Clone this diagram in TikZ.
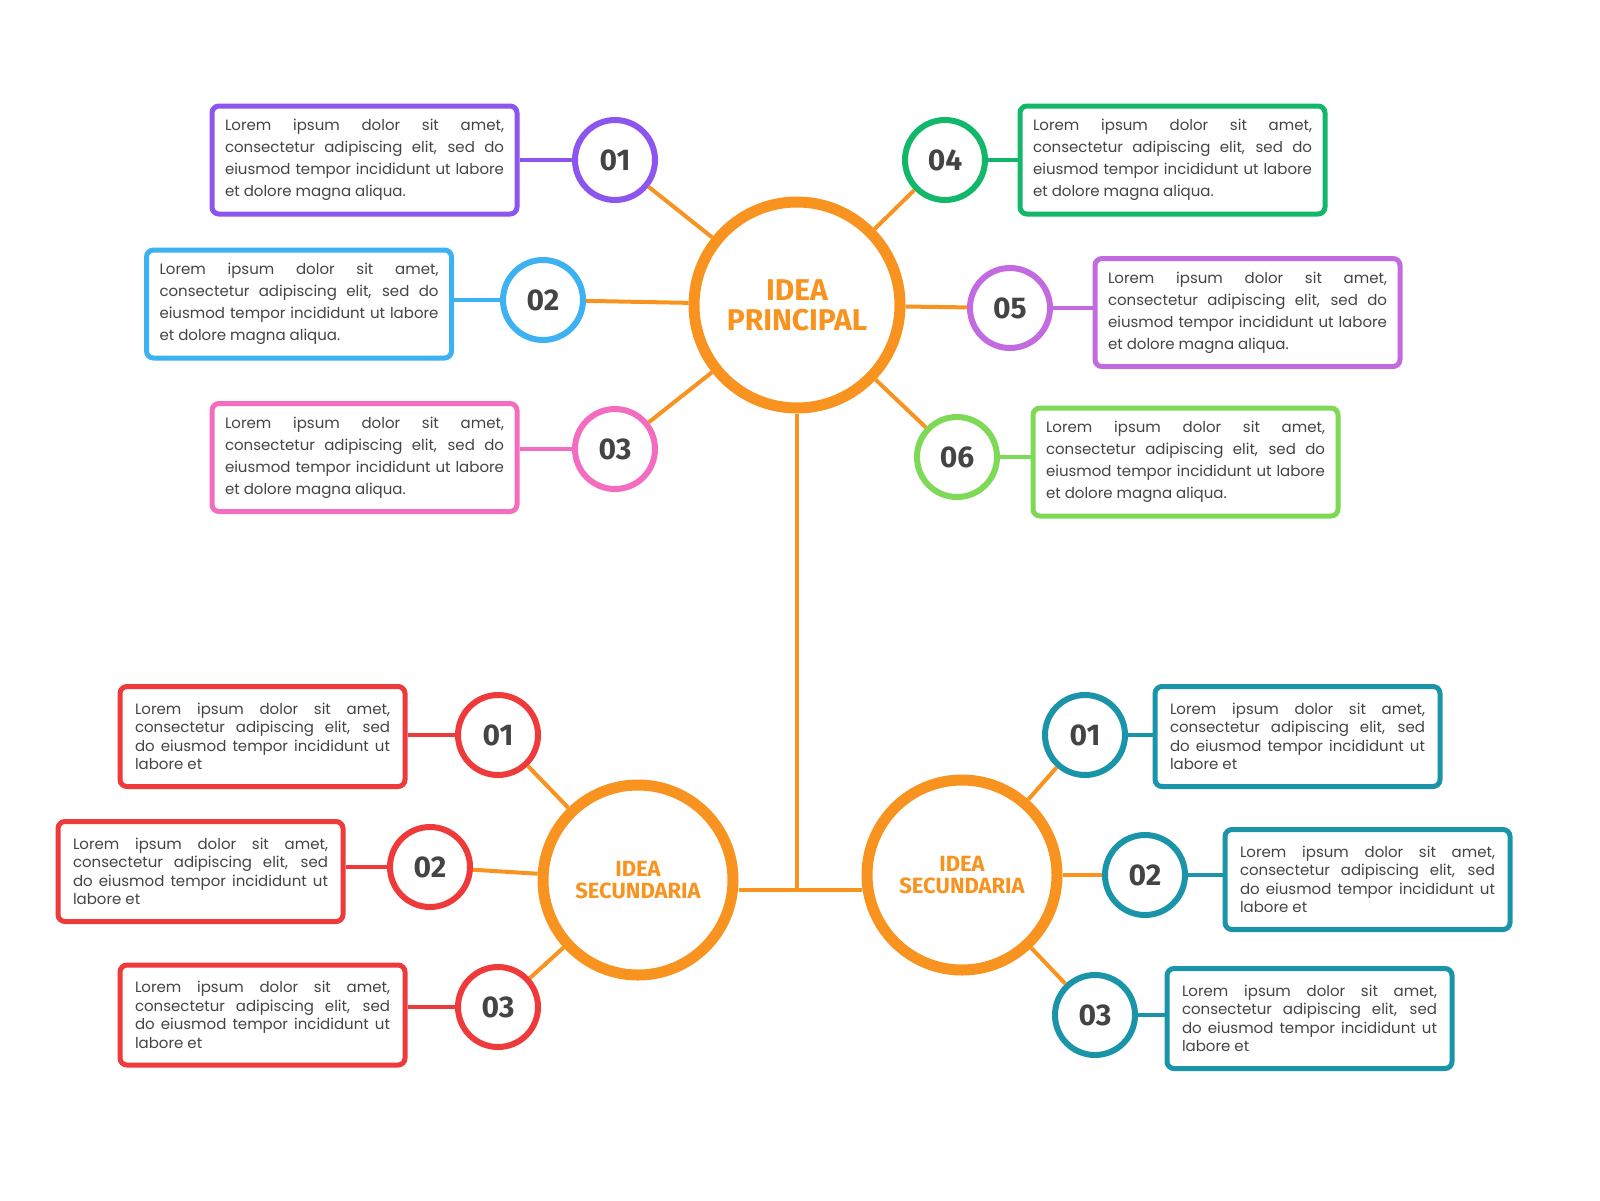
\documentclass[tikz,border=0pt]{standalone}
\usepackage{fontspec}
\setmainfont{Poppins}
\newfontfamily\numfont{Fira Sans}
\newcommand\nohy{\hyphenpenalty10000\exhyphenpenalty10000\relax}
\definecolor{org}{HTML}{F7931E}
\definecolor{cA}{HTML}{8B55EE}
\definecolor{cB}{HTML}{3DB2F2}
\definecolor{cC}{HTML}{F36CC0}
\definecolor{cD}{HTML}{12B76A}
\definecolor{cE}{HTML}{C26BE0}
\definecolor{cF}{HTML}{7ED957}
\definecolor{cR}{HTML}{EE3A3A}
\definecolor{cT}{HTML}{1A94A8}
\definecolor{txt}{HTML}{444444}
\begin{document}
\begin{tikzpicture}[x=1pt,y=-1pt,
 big/.style={circle,draw=org,line width=11pt,fill=white,text=org,font=\numfont\bfseries,align=center},
 num/.style={circle,draw=#1,line width=6pt,fill=white,minimum size=80pt,inner sep=0pt,text=txt,font=\numfont\bfseries\fontsize{30}{30}\selectfont},
 box/.style={rectangle,rounded corners=7pt,draw=#1,line width=5pt,fill=white,text=txt,align=justify,inner sep=0pt},
 topbox/.style={box=#1,minimum width=305pt,minimum height=108pt,text width=279pt,font=\fontsize{15}{22}\selectfont\nohy},
 lowbox/.style={box=#1,minimum width=285pt,minimum height=100pt,text width=255pt,font=\fontsize{15}{18.5}\selectfont\nohy},
 con/.style={draw=#1,line width=4pt}]
\useasboundingbox (0,0) rectangle (1600,1200);
\def\LT{\nohy Lorem ipsum dolor sit amet, consectetur adipiscing elit, sed do eiusmod tempor incididunt ut labore et dolore magna aliqua.}
\def\LS{\nohy Lorem ipsum dolor sit amet, consectetur adipiscing elit, sed do eiusmod tempor incididunt ut labore et}
% main
\node[big,minimum size=206pt,font=\numfont\bfseries\fontsize{30}{30}\selectfont] (m) at (797,305) {IDEA\\PRINCIPAL};
\node[big,minimum size=190pt,font=\numfont\bfseries\fontsize{22}{22}\selectfont] (sl) at (638,880) {IDEA\\SECUNDARIA};
\node[big,minimum size=190pt,font=\numfont\bfseries\fontsize{22}{22}\selectfont] (sr) at (962,875) {IDEA\\SECUNDARIA};
\coordinate (j) at (797,890);
\draw[con=org] (m) -- (j);
\draw[con=org] (sl.east|-j) -- (sr.west|-j);
% top
\node[num=cA] (n1) at (615,160) {01};
\node[num=cB] (n2) at (543,300) {02};
\node[num=cC] (n3) at (615,449) {03};
\node[num=cD] (n4) at (945,160) {04};
\node[num=cE] (n5) at (1010,308) {05};
\node[num=cF] (n6) at (957,457) {06};
\node[topbox=cA] (b1) at (364.5,160) {\LT};
\node[topbox=cB] (b2) at (299,304) {\LT};
\node[topbox=cC] (b3) at (364.5,457.5) {\LT};
\node[topbox=cD] (b4) at (1172.5,160) {\LT};
\node[topbox=cE] (b5) at (1247.5,312.5) {\LT};
\node[topbox=cF] (b6) at (1185.5,462) {\LT};
\foreach \i in {1,...,6}{\draw[con=org] (n\i) -- (m);}
\draw[con=cA] (b1.east|-n1) -- (n1);
\draw[con=cB] (b2.east|-n2) -- (n2);
\draw[con=cC] (b3.east|-n3) -- (n3);
\draw[con=cD] (b4.west|-n4) -- (n4);
\draw[con=cE] (b5.west|-n5) -- (n5);
\draw[con=cF] (b6.west|-n6) -- (n6);
% bottom left
\node[num=cR] (l1) at (498,735) {01};
\node[num=cR] (l2) at (430,867) {02};
\node[num=cR] (l3) at (498,1007) {03};
\node[lowbox=cR] (lb1) at (262.5,736.5) {\LS};
\node[lowbox=cR] (lb2) at (200.5,871.5) {\LS};
\node[lowbox=cR] (lb3) at (262.5,1015) {\LS};
\foreach \i in {1,2,3}{
 \draw[con=org] (l\i) -- (sl);
 \draw[con=cR] (lb\i.east|-l\i) -- (l\i);}
% bottom right
\node[num=cT] (r1) at (1085,735) {01};
\node[num=cT] (r2) at (1145,875) {02};
\node[num=cT] (r3) at (1095,1015) {03};
\node[lowbox=cT] (rb1) at (1297.5,736.5) {\LS};
\node[lowbox=cT] (rb2) at (1367.5,879.5) {\LS};
\node[lowbox=cT] (rb3) at (1309.5,1018.5) {\LS};
\foreach \i in {1,2,3}{
 \draw[con=org] (r\i) -- (sr);
 \draw[con=cT] (rb\i.west|-r\i) -- (r\i);}
\end{tikzpicture}
\end{document}
